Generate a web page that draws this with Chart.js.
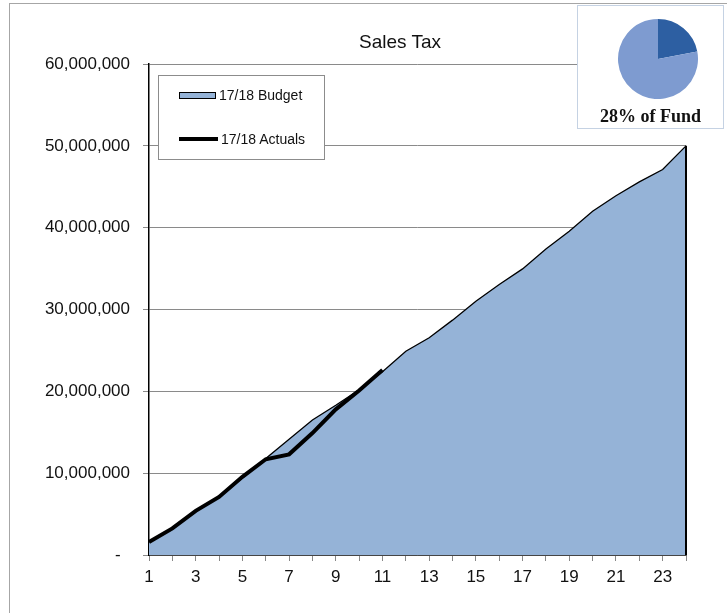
<!DOCTYPE html>
<html>
<head>
<meta charset="utf-8">
<script src="https://cdn.jsdelivr.net/npm/chart.js@4.4.1/dist/chart.umd.min.js"></script>
<style>
  body { margin: 0; background: #fff; font-family: "Liberation Sans", Arial, sans-serif; }
  #wrap { position: relative; width: 727px; height: 613px; overflow: hidden; }
  #frame { position: absolute; left: 9px; top: 3px; width: 800px; height: 700px;
           border-left: 1px solid #a6a6a6; border-top: 1px solid #a6a6a6; }
  #main { position: absolute; left: 0; top: 0; }
  #title { position: absolute; left: 300px; width: 200px; top: 31px; text-align: center;
           font-size: 19px; color: #111; }
  #legend { position: absolute; left: 158px; top: 75px; width: 165px; height: 83px;
            border: 1px solid #8c8c8c; background: #fff; font-size: 14px; color: #111; }
  .item { position: absolute; left: 20px; height: 20px; display: flex; align-items: center; }
  .item span { margin-left: 3px; }
  #pieBox { position: absolute; left: 577px; top: 5px; width: 145px; height: 122px;
            border: 1px solid #c5d2e3; background: #fff; }
  #pieWrap { position: absolute; left: 40px; top: 13px; width: 80px; height: 80px; }
  #pieText { position: absolute; left: 0; right: 0; top: 100px; text-align: center;
             font: bold 18px "Liberation Serif", "Times New Roman", serif; color: #111; }
</style>
</head>
<body>
<div id="wrap">
  <canvas id="main" width="727" height="613"></canvas>
  <div id="frame"></div>
  <div id="title">Sales Tax</div>
  <div id="legend"></div>
  <div id="pieBox">
    <div id="pieWrap"><canvas id="pie"></canvas></div>
    <div id="pieText">28% of Fund</div>
  </div>
</div>
<script>
// periods on the x axis
const periods = ['1','2','3','4','5','6','7','8','9','10','11','12',
                 '13','14','15','16','17','18','19','20','21','22','23','24'];

// cumulative sales tax
const budget = [1600000, 3200000, 5300000, 7100000, 9400000, 11800000, 14150000, 16500000,
                18300000, 20200000, 22400000, 24900000, 26550000, 28700000, 31000000, 33050000,
                34960000, 37400000, 39550000, 42000000, 43900000, 45600000, 47100000, 50000000];
const actuals = [1600000, 3250000, 5400000, 7100000, 9550000, 11700000, 12300000, 14900000,
                 17800000, 20100000, 22600000];

const yTicks = [0, 10000000, 20000000, 30000000, 40000000, 50000000, 60000000];

// pie inset: sales tax share vs rest of fund
const pieLabels = ['Sales Tax', 'Other'];
const pieShares = [22, 78];

const budgetFill = '#95b3d7';

// excel draws the closing edge of the area, chart.js doesn't
const areaEdge = {
  id: 'areaEdge',
  afterDatasetsDraw(chart) {
    const meta = chart.getDatasetMeta(0);
    const last = meta.data[meta.data.length - 1];
    const base = chart.scales.y.getPixelForValue(0);
    const c = chart.ctx;
    c.save();
    c.strokeStyle = '#000';
    c.lineWidth = 2;
    c.beginPath();
    c.moveTo(last.x, last.y);
    c.lineTo(last.x, base);
    c.stroke();
    c.restore();
  }
};

const chart = new Chart(document.getElementById('main'), {
  type: 'line',
  data: {
    labels: periods,
    datasets: [
      {
        label: '17/18 Budget',
        data: budget,
        fill: 'origin',
        backgroundColor: budgetFill,
        borderColor: '#000',
        borderWidth: 1.3,
        pointRadius: 0,
        tension: 0,
        order: 2
      },
      {
        label: '17/18 Actuals',
        data: actuals,
        fill: false,
        borderColor: '#000',
        borderWidth: 4,
        pointRadius: 0,
        tension: 0,
        order: 1
      }
    ]
  },
  options: {
    responsive: false,
    animation: false,
    layout: { padding: { left: 0, right: 41, top: 64, bottom: 0 } },
    plugins: {
      legend: { display: false },
      tooltip: { enabled: false }
    },
    scales: {
      x: {
        offset: false,
        grid: { drawOnChartArea: false, color: '#888', tickLength: 6 },
        border: { color: '#000', width: 1.5 },
        ticks: {
          autoSkip: false,
          maxRotation: 0,
          padding: 6,
          color: '#111',
          font: { family: '"Liberation Sans", Arial, sans-serif', size: 17 },
          callback: (v, i) => (i % 2 === 0 ? periods[i] : '')
        },
        afterFit: s => { s.height = 58; }
      },
      y: {
        min: 0,
        max: 60000000,
        afterBuildTicks: s => { s.ticks = yTicks.map(v => ({ value: v })); },
        grid: { color: '#8a8a8a', lineWidth: 1, tickLength: 6 },
        border: { color: '#000', width: 1.5 },
        ticks: {
          padding: 13,
          color: '#111',
          font: { family: '"Liberation Sans", Arial, sans-serif', size: 17 },
          callback: v => (v === 0 ? '-  ' : v.toLocaleString('en-US'))
        },
        afterFit: s => { s.width = 149; }
      }
    }
  },
  plugins: [areaEdge]
});

// legend box, built from the datasets
const legend = document.getElementById('legend');
chart.data.datasets.forEach((ds, i) => {
  const item = document.createElement('div');
  item.className = 'item';
  item.style.top = (i === 0 ? 9 : 53) + 'px';
  const mark = document.createElement('div');
  if (ds.fill) {
    mark.style.cssText = 'width:37px;height:7px;box-sizing:border-box;border:1.5px solid #000;background:' + ds.backgroundColor;
  } else {
    mark.style.cssText = 'width:39px;height:4px;background:' + ds.borderColor;
  }
  const txt = document.createElement('span');
  txt.textContent = ds.label;
  item.appendChild(mark);
  item.appendChild(txt);
  legend.appendChild(item);
});

new Chart(document.getElementById('pie'), {
  type: 'pie',
  data: {
    labels: pieLabels,
    datasets: [{
      data: pieShares,
      backgroundColor: ['#2d5fa2', '#7e9bd0'],
      borderWidth: 0
    }]
  },
  options: {
    responsive: true,
    maintainAspectRatio: false,
    animation: false,
    plugins: { legend: { display: false }, tooltip: { enabled: false } }
  }
});
</script>
</body>
</html>
